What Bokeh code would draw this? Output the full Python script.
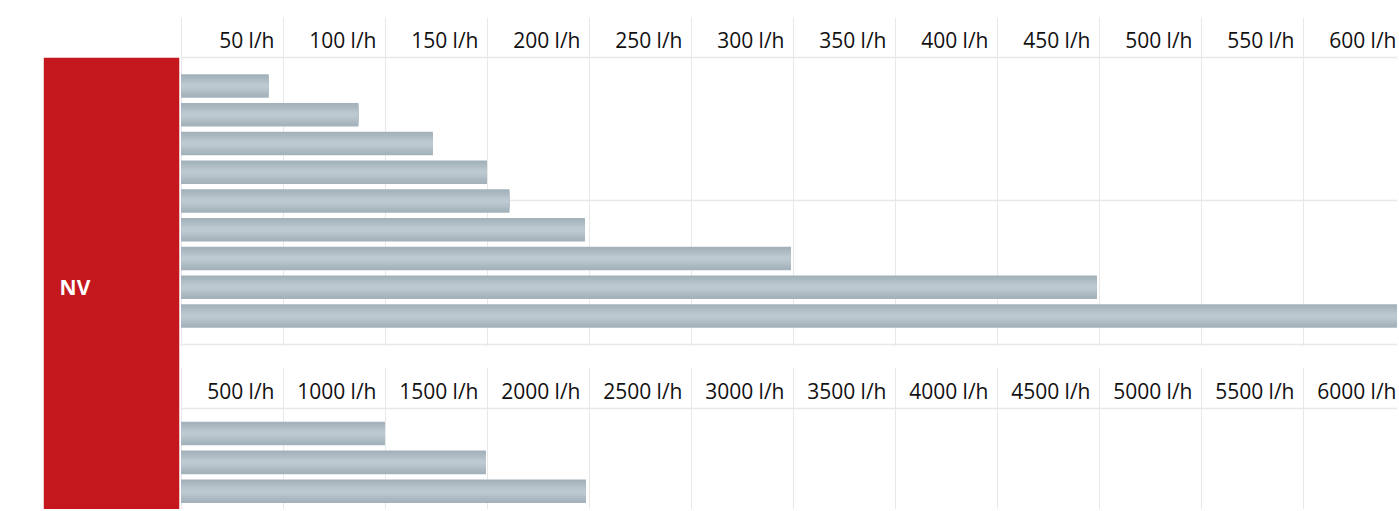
from bokeh.plotting import figure
from bokeh.layouts import row, column
from bokeh.models import Range1d, FactorRange, FixedTicker, ColumnDataSource
from bokeh.core.properties import value
from bokeh.embed import file_html
from bokeh.resources import INLINE

# ---------------- data ----------------
CATEGORY = ["NV"]

TOP_VALUES = [43, 87, 123.5, 150, 161, 198, 299, 449, 600]
TOP_TICKS = [0, 50, 100, 150, 200, 250, 300, 350, 400, 450, 500, 550, 600]
TOP_LABELS = ["50 l/h", "100 l/h", "150 l/h", "200 l/h", "250 l/h", "300 l/h",
              "350 l/h", "400 l/h", "450 l/h", "500 l/h", "550 l/h", "600 l/h"]

BOTTOM_VALUES = [1000, 1495, 1985]
BOTTOM_TICKS = [0, 500, 1000, 1500, 2000, 2500, 3000, 3500, 4000, 4500, 5000, 5500, 6000]
BOTTOM_LABELS = ["500 l/h", "1000 l/h", "1500 l/h", "2000 l/h", "2500 l/h", "3000 l/h",
                 "3500 l/h", "4000 l/h", "4500 l/h", "5000 l/h", "5500 l/h", "6000 l/h"]

# ---------------- style ----------------
FONT = "Open Sans"
RED = "#c4171e"
GRID = "#e8e8e8"
TEXT = "#111111"
GRADIENT = [(1.0, "#a3b2bb"), (0.8, "#a9b7c0"), (0.6, "#b0bdc5"),
            (0.4, "#b7c4cb"), (0.2, "#bdc9d0")]

LEFT_W = 180
RIGHT_W = 1217
TOP_H = 346
BOT_H = 163
BAR_H = 0.82
LABEL_GAP = 8.5
LABEL_RAISE = 17.5


def section(values, ticks, labels, px_per_unit, height, top_border,
            y_bottom, y_top, hlines, header_y):
    x0 = -0.5 / px_per_unit
    p = figure(width=RIGHT_W, height=height, output_backend="svg",
               toolbar_location=None,
               x_range=Range1d(x0, x0 + RIGHT_W / px_per_unit),
               y_range=Range1d(start=y_bottom, end=y_top),
               x_axis_location=None, y_axis_location=None,
               min_border_left=0, min_border_right=0,
               min_border_top=top_border, min_border_bottom=0)
    p.outline_line_color = None
    p.background_fill_color = "white"
    p.border_fill_color = "white"

    p.xgrid.ticker = FixedTicker(ticks=ticks)
    p.xgrid.grid_line_color = GRID
    p.xgrid.grid_line_width = 1
    p.ygrid.ticker = FixedTicker(ticks=hlines)
    p.ygrid.grid_line_color = GRID
    p.ygrid.grid_line_width = 1.5

    rows = list(range(1, len(values) + 1))
    src = ColumnDataSource(dict(y=rows, v=values))
    for frac, col in GRADIENT:
        p.hbar(y="y", left=0, right="v", height=BAR_H * frac, source=src,
               fill_color=col, line_color=None)

    step = ticks[1] - ticks[0]
    lab = ColumnDataSource(dict(
        x=[t - step / 2 for t in ticks[1:]],
        y=[header_y] * len(labels),
        text=labels))
    p.text(x="x", y="y", text="text", source=lab,
           text_align="right", text_baseline="alphabetic",
           x_offset=step * px_per_unit / 2 - LABEL_GAP, y_offset=-LABEL_RAISE,
           text_font=value(FONT), text_font_size="21px", text_color=TEXT)
    return p


top = section(TOP_VALUES, TOP_TICKS, TOP_LABELS, 2.04, TOP_H, 17,
              10.063, -1.381, [0, 5, 10], 0)
bottom = section(BOTTOM_VALUES, BOTTOM_TICKS, BOTTOM_LABELS, 0.204, BOT_H, 21,
                 3.634, -1.288, [0.133], 0.133)

left = figure(width=LEFT_W, height=TOP_H + BOT_H, output_backend="svg",
              toolbar_location=None,
              x_range=Range1d(-0.0005, 1), y_range=FactorRange(factors=CATEGORY, range_padding=0),
              x_axis_location=None, y_axis_location=None,
              min_border_left=43, min_border_right=1,
              min_border_top=57, min_border_bottom=0)
left.outline_line_color = None
left.background_fill_color = "white"
left.border_fill_color = "white"
left.xgrid.visible = False
left.ygrid.visible = False
csrc = ColumnDataSource(dict(cat=CATEGORY, v=[1] * len(CATEGORY)))
left.hbar(y="cat", left=0, right="v", height=1, source=csrc,
          fill_color=RED, line_color=None)
left.text(x=[0], y=CATEGORY, text=CATEGORY, text_align="left",
          text_baseline="alphabetic", x_offset=16, y_offset=3,
          text_font=value(FONT), text_font_size="21px",
          text_font_style="bold", text_color="white")

layout = row(left, column(top, bottom))

open("out.html", "w").write(file_html(layout, INLINE))
